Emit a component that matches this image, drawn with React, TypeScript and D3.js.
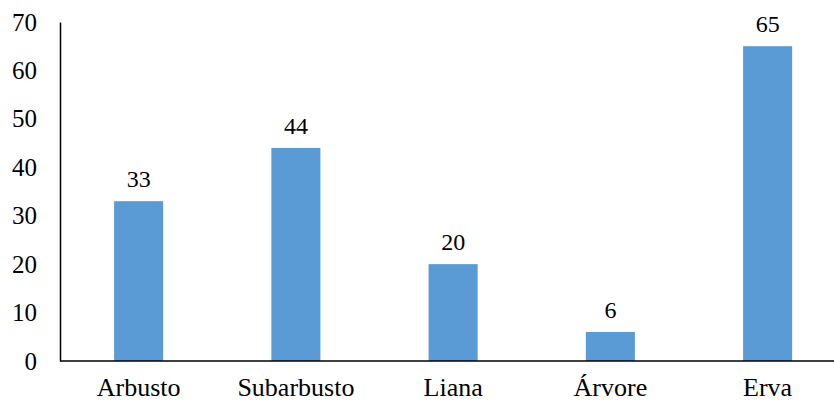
import * as d3 from 'd3'
import { useEffect, useRef } from 'react'

const categories = ['Arbusto', 'Subarbusto', 'Liana', 'Árvore', 'Erva'];
const values = [33, 44, 20, 6, 65];
const yTicks = [0, 10, 20, 30, 40, 50, 60, 70];

const W = 834;
const H = 403;

const App = () => {
    const ref = useRef<SVGSVGElement>(null);

    useEffect(() => {
        const svg = d3.select(ref.current);
        svg.selectAll('*').remove();

        const left = 60;
        const x = d3.scaleBand<string>()
            .domain(categories)
            .range([left, left + 157.25 * categories.length])
            .paddingInner(0.688)
            .paddingOuter(0.344);

        const y = d3.scaleLinear()
            .domain([0, 70])
            .range([361, 22]);

        const font = "Liberation Serif, DejaVu Serif, serif";

        // bars
        svg.append('g')
            .selectAll('rect')
            .data(values)
            .join('rect')
            .attr('x', (_, i) => x(categories[i])!)
            .attr('width', x.bandwidth())
            .attr('y', d => y(d))
            .attr('height', d => y(0) - y(d))
            .attr('fill', '#5B9BD5');

        // value labels
        svg.append('g')
            .selectAll('text')
            .data(values)
            .join('text')
            .attr('x', (_, i) => x(categories[i])! + x.bandwidth() / 2)
            .attr('y', d => y(d) - 14)
            .attr('text-anchor', 'middle')
            .attr('font-family', font)
            .attr('font-size', 24)
            .text(d => d);

        // y axis
        const yAxis = svg.append('g')
            .attr('transform', `translate(${left},0)`)
            .call(d3.axisLeft(y).tickValues(yTicks).tickSize(0).tickPadding(23))
            .attr('font-family', font)
            .attr('font-size', 25);
        yAxis.select('.domain').attr('stroke', '#000').attr('stroke-width', 1.5);
        yAxis.selectAll('text').attr('fill', '#000');

        // x axis
        const xAxis = svg.append('g')
            .attr('transform', `translate(0,${y(0)})`)
            .call(d3.axisBottom(x).tickSize(0).tickPadding(17))
            .attr('font-family', font)
            .attr('font-size', 26);
        xAxis.select('.domain').attr('stroke', '#000').attr('stroke-width', 1.5)
            .attr('d', `M${left},0H${W}`);
        xAxis.selectAll('text').attr('fill', '#000');
    }, []);

    return (
        <svg ref={ref} width={W} height={H}
            style={{ position: 'absolute', left: 0, top: 0, background: '#fff' }} />
    );
};

export default App;
